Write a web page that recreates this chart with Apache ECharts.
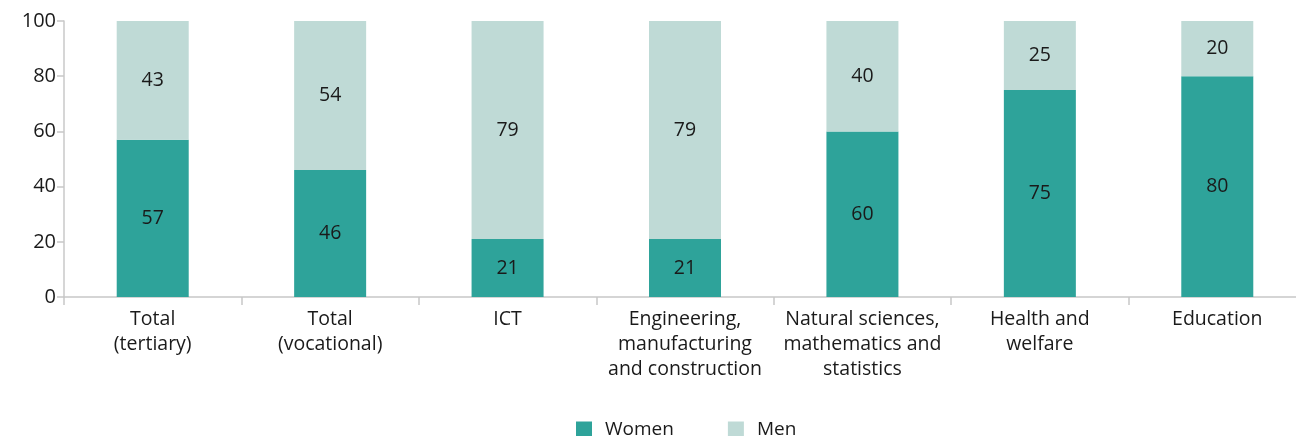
<!DOCTYPE html>
<html><head><meta charset="utf-8">
<script src="https://cdn.jsdelivr.net/npm/echarts@6/dist/echarts.min.js"></script>
<style>html,body{margin:0;padding:0;background:#fff}#c{width:1296px;height:436px}</style>
</head><body><div id="c"></div>
<script>
const categories = ["Total\n(tertiary)", "Total\n(vocational)", "ICT", "Engineering,\nmanufacturing\nand construction", "Natural sciences,\nmathematics and\nstatistics", "Health and\nwelfare", "Education"];
const women = [57, 46, 21, 21, 60, 75, 80];
const men = [43, 54, 79, 79, 40, 25, 20];
const yTicks = [0, 20, 40, 60, 80, 100];
const font = "'Open Sans', 'Noto Sans', sans-serif";
const chart = echarts.init(document.getElementById('c'));
const lbl = {show: true, position: 'inside', color: '#1a1a1a', fontSize: 19.5, fontFamily: font};
chart.setOption({
  animation: false,
  grid: {left: 64, top: 21, width: 1242, height: 276, containLabel: false, outerBoundsMode: 'none'},
  legend: {bottom: -3, left: 576, padding: 0, itemWidth: 16, itemHeight: 16, itemGap: 54, icon: 'rect',
    textStyle: {fontSize: 19, fontFamily: font, color: '#1a1a1a', padding: [0, 0, 0, 8]},
    data: ['Women', 'Men']},
  xAxis: {type: 'category', data: categories,
    axisLine: {lineStyle: {color: '#c8c8c8', width: 1.5}},
    axisTick: {show: true, length: 8, lineStyle: {color: '#c8c8c8', width: 1.5}},
    axisLabel: {interval: 0, fontSize: 19.5, fontFamily: font, color: '#1a1a1a', lineHeight: 25, margin: 10}},
  yAxis: {type: 'value', min: yTicks[0], max: yTicks[yTicks.length - 1], interval: 20,
    axisLine: {show: true, lineStyle: {color: '#c8c8c8', width: 1.5}},
    axisTick: {show: true, length: 7, lineStyle: {color: '#c8c8c8', width: 1.5}},
    splitLine: {show: false},
    axisLabel: {fontSize: 20, fontFamily: font, color: '#1a1a1a', margin: 8}},
  series: [
    {name: 'Women', type: 'bar', stack: 's', data: women, barWidth: 72, itemStyle: {color: '#2ea39a'}, label: lbl},
    {name: 'Men', type: 'bar', stack: 's', data: men, barWidth: 72, itemStyle: {color: '#bfdad6'}, label: lbl}
  ]
});
</script></body></html>
